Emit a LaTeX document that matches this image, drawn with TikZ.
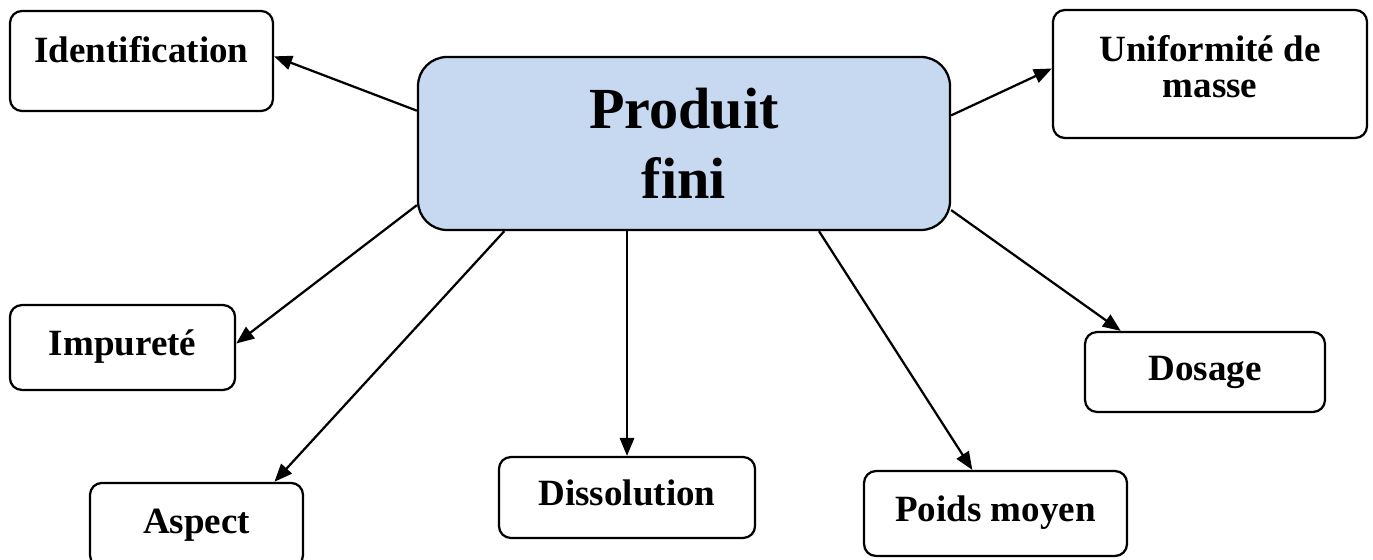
\documentclass[tikz,border=0pt]{standalone}
\usepackage{fontspec}
\setmainfont{Liberation Serif}
\usetikzlibrary{arrows.meta}
\definecolor{prodfill}{RGB}{198,217,240}
\tikzset{
  box/.style = {draw, line width = 0.85pt, rounded corners = 4.5pt, inner sep = 0pt,
                font = \fontsize{14}{13.5}\selectfont\bfseries,
                text height = 9.8pt, text depth = 3.5pt},
  mainbox/.style = {draw, line width = 0.85pt, fill = prodfill, rounded corners = 11pt,
                inner sep = 0pt, align = center,
                font = \fontsize{22}{26.5}\selectfont\bfseries},
  link/.style = {line width = 0.85pt, -{Triangle[length = 6.8pt, width = 5.4pt]}}
}
\begin{document}
\begin{tikzpicture}[x = 0.378pt, y = -0.378pt]
\useasboundingbox (0,0) rectangle (1373,560);

% centre
\node[mainbox, minimum width = 201.1pt, minimum height = 65.4pt] (prod) at (684,143.5) {Produit\\fini};

% controles
\node[box, minimum width = 99.4pt, minimum height = 37.8pt, text depth = 9pt] (ident) at (141.5,61) {Identification};
\node[box, minimum width = 118.7pt, minimum height = 48.4pt, align = center, text height = 22.7pt, text depth = 5.1pt] (unif) at (1210,74) {Uniformité de\\masse};
\node[box, minimum width = 85.1pt, minimum height = 32.1pt] (impur) at (122.5,347.5) {Impureté};
\node[box, minimum width = 80.5pt, minimum height = 31.8pt] (aspect) at (196.5,525) {Aspect};
\node[box, minimum width = 96.8pt, minimum height = 30.6pt] (dissol) at (627,497.5) {Dissolution};
\node[box, minimum width = 99.4pt, minimum height = 32.1pt] (poids) at (995.5,513.5) {Poids moyen};
\node[box, minimum width = 90.7pt, minimum height = 30.2pt] (dosage) at (1205,372) {Dosage};

% fleches
\draw[link] (prod.173.2) -- (ident.2);
\draw[link] (prod.6.8) -- (unif.178);
\draw[link] (prod.193.6) -- (impur.2);
\draw[link] (prod.206.4) -- (aspect.29.6);
\draw[link] (dissol.north |- prod.south) -- (dissol.north);
\draw[link] (prod.327.9) -- (poids.118);
\draw[link] (prod.346.4) -- (dosage.154);
\end{tikzpicture}
\end{document}
